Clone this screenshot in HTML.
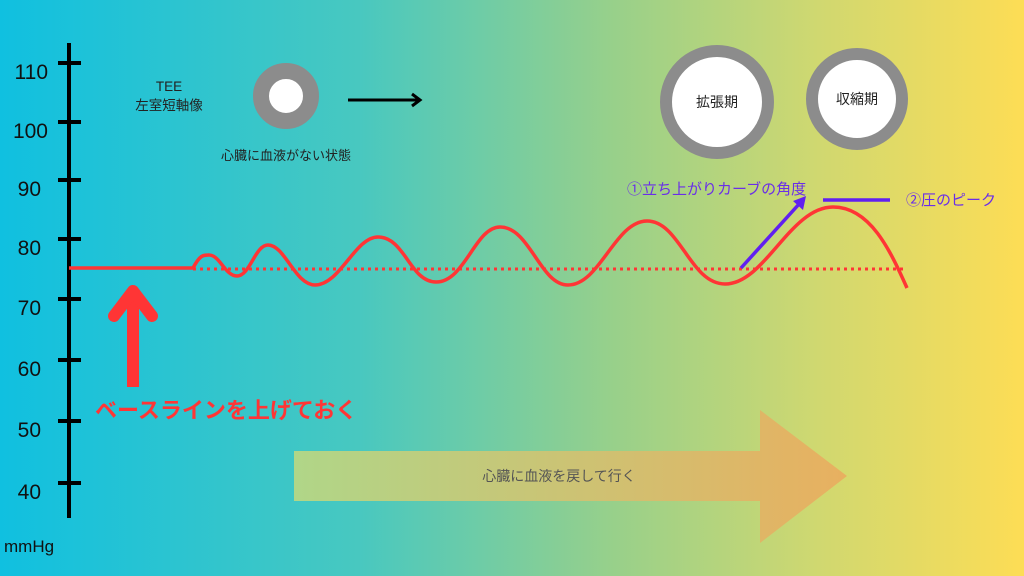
<!DOCTYPE html>
<html><head><meta charset="utf-8"><style>
html,body{margin:0;padding:0;width:1024px;height:576px;overflow:hidden}
svg{display:block}
text{font-family:"Liberation Sans","Noto Sans CJK JP",sans-serif}
</style></head><body>
<svg width="1024" height="576" viewBox="0 0 1024 576" xmlns="http://www.w3.org/2000/svg">
<defs>
<linearGradient id="bg" x1="0" x2="1" y1="0" y2="0">
<stop offset="0" stop-color="#10c0e0"/>
<stop offset="0.35" stop-color="#48c8c0"/>
<stop offset="0.6" stop-color="#98d08a"/>
<stop offset="0.8" stop-color="#d0d870"/>
<stop offset="1" stop-color="#fddd55"/>
</linearGradient>
<linearGradient id="ar" x1="0" x2="1" y1="0" y2="0">
<stop offset="0" stop-color="#b0d688"/>
<stop offset="1" stop-color="#e8b060"/>
</linearGradient>
</defs>
<rect width="1024" height="576" fill="url(#bg)"/>
<g stroke="#000" stroke-width="4">
<line x1="69" y1="43" x2="69" y2="518"/>
<line x1="58" y1="63" x2="81" y2="63"/>
<line x1="58" y1="122" x2="81" y2="122"/>
<line x1="58" y1="180" x2="81" y2="180"/>
<line x1="58" y1="239" x2="81" y2="239"/>
<line x1="58" y1="299" x2="81" y2="299"/>
<line x1="58" y1="360" x2="81" y2="360"/>
<line x1="58" y1="421" x2="81" y2="421"/>
<line x1="58" y1="483" x2="81" y2="483"/>
</g>
<g font-size="21" fill="#111" text-anchor="end">
<text x="48" y="79">110</text>
<text x="48" y="138">100</text>
<text x="41" y="196">90</text>
<text x="41" y="255">80</text>
<text x="41" y="315">70</text>
<text x="41" y="376">60</text>
<text x="41" y="437">50</text>
<text x="41" y="499">40</text>
</g>
<text x="4" y="552" font-size="17" fill="#111">mmHg</text>
<text x="169" y="91" font-size="13.5" fill="#222" text-anchor="middle">TEE</text>
<text x="169" y="110" font-size="13.5" fill="#222" text-anchor="middle">左室短軸像</text>
<circle cx="286" cy="96" r="25" fill="#fff" stroke="#8c8c8c" stroke-width="16"/>
<text x="286" y="160" font-size="13" fill="#222" text-anchor="middle">心臓に血液がない状態</text>
<g stroke="#000" stroke-width="3" fill="none">
<line x1="348" y1="100" x2="420" y2="100"/>
<polyline points="412,94 420,100 412,106"/>
</g>
<circle cx="717" cy="102" r="51" fill="#fff" stroke="#8c8c8c" stroke-width="12"/>
<text x="717" y="107" font-size="14" fill="#222" text-anchor="middle">拡張期</text>
<circle cx="857" cy="99" r="45" fill="#fff" stroke="#8c8c8c" stroke-width="12"/>
<text x="857" y="104" font-size="14" fill="#222" text-anchor="middle">収縮期</text>
<line x1="193" y1="269" x2="905" y2="269" stroke="#ff3535" stroke-width="3" stroke-dasharray="3,4"/>
<path d="M69,268 L193,268 C200,255 203,255 209,255 C220,255 225,276 237,276 C250,276 255,245 268,245 C285,245 295,285 315,285 C340,285 355,237 378,237 C405,237 410,282 436,282 C465,282 475,227 500,227 C530,227 540,285 568,285 C600,285 615,221 647,221 C680,221 690,284 725,284 C765,284 790,207 833,207 C870,207 890,250 907,288" fill="none" stroke="#ff3535" stroke-width="3.5"/>
<g stroke="#6020f0" stroke-width="3.5" fill="none">
<line x1="741" y1="268" x2="800" y2="203"/>
<line x1="823" y1="200" x2="890" y2="200"/>
</g>
<polygon points="806,196 793,201 803,210" fill="#6020f0"/>
<text x="627" y="194" font-size="15" fill="#6a2ee8">①立ち上がりカーブの角度</text>
<text x="906" y="205" font-size="15" fill="#6a2ee8">②圧のピーク</text>
<g stroke="#ff3535" stroke-width="12" fill="none" stroke-linecap="round" stroke-linejoin="round">
<line x1="133" y1="292" x2="133" y2="387" stroke-linecap="butt"/>
<polyline points="114,316 133,291 152,316"/>
</g>
<text x="95" y="418" font-size="22" font-weight="bold" fill="#ff3535">ベースラインを上げておく</text>
<polygon points="294,451 760,451 760,410 847,476 760,543 760,501 294,501" fill="url(#ar)"/>
<text x="559" y="481" font-size="14" fill="#555" text-anchor="middle">心臓に血液を戻して行く</text>
</svg>
</body></html>
